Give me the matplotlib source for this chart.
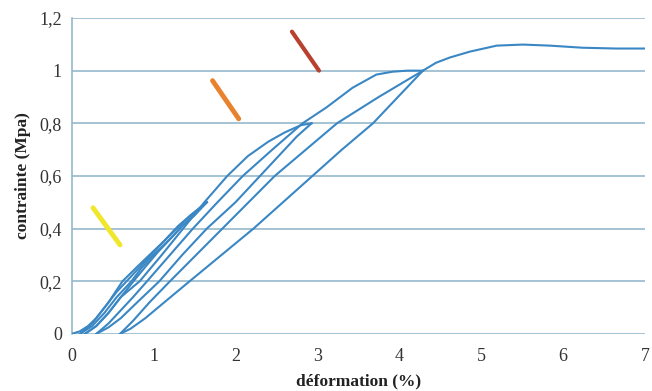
import matplotlib
matplotlib.use("Agg")
from matplotlib import pyplot as plt

# branches of the cyclic test (strain %, stress MPa)
# load 1 up to 0.5
x_l1 = [0, 0.1, 0.2, 0.3, 0.45, 0.62, 0.8, 0.95, 1.12, 1.28, 1.45, 1.65]
y_l1 = [0, 0.01, 0.03, 0.06, 0.12, 0.2, 0.255, 0.3, 0.35, 0.4, 0.45, 0.5]
# unload 1
x_u1 = [1.65, 1.5, 1.35, 1.2, 1.0, 0.85, 0.73, 0.55, 0.4, 0.25, 0.1]
y_u1 = [0.5, 0.45, 0.41, 0.36, 0.3, 0.25, 0.2, 0.14, 0.08, 0.03, 0]
# reload to 0.5
x_l1b = [0.1, 0.25, 0.4, 0.55, 0.7, 0.85, 1.0, 1.15, 1.3, 1.45, 1.65]
y_l1b = [0, 0.04, 0.1, 0.16, 0.21, 0.26, 0.31, 0.36, 0.41, 0.45, 0.5]
# unload
x_u1b = [1.65, 1.5, 1.35, 1.2, 1.05, 0.9, 0.78, 0.6, 0.45, 0.3, 0.16]
y_u1b = [0.5, 0.455, 0.41, 0.36, 0.31, 0.255, 0.21, 0.14, 0.08, 0.03, 0]
# load 2 up to 0.8
x_l2 = [0.16, 0.3, 0.45, 0.6, 0.83, 1.1, 1.36, 1.62, 1.9, 2.15, 2.4, 2.6, 2.8, 2.93]
y_l2 = [0, 0.03, 0.08, 0.14, 0.2, 0.3, 0.4, 0.5, 0.6, 0.675, 0.73, 0.765, 0.793, 0.8]
# unload 2
x_u2 = [2.93, 2.75, 2.6, 2.45, 2.3, 2.0, 1.65, 1.35, 1.07, 0.8, 0.6, 0.45, 0.3]
y_u2 = [0.8, 0.75, 0.7, 0.65, 0.6, 0.5, 0.4, 0.3, 0.2, 0.12, 0.06, 0.025, 0]
# load 3 up to 1.0
x_l3 = [0.3, 0.45, 0.6, 0.75, 0.92, 1.2, 1.48, 1.78, 2.09, 2.45, 2.82, 3.11, 3.43, 3.72, 3.92, 4.1, 4.29]
y_l3 = [0, 0.04, 0.09, 0.14, 0.2, 0.3, 0.4, 0.5, 0.6, 0.7, 0.8, 0.86, 0.935, 0.985, 0.996, 1.0, 1.0]
# unload 3
x_u3 = [4.29, 4.0, 3.68, 3.3, 2.94, 2.58, 2.22, 1.83, 1.44, 1.15, 0.9, 0.72, 0.59]
y_u3 = [1.0, 0.905, 0.8, 0.7, 0.6, 0.5, 0.4, 0.3, 0.2, 0.125, 0.06, 0.02, 0]
# reload 4 and final loading to failure
x_l4 = [0.59, 0.75, 0.95, 1.2, 1.52, 1.84, 2.16, 2.48, 2.86, 3.24, 3.75, 4.29,
        4.45, 4.62, 4.86, 5.19, 5.51, 5.84, 6.24, 6.65, 7.0]
y_l4 = [0, 0.05, 0.12, 0.2, 0.3, 0.4, 0.5, 0.6, 0.7, 0.8, 0.9, 1.0,
        1.03, 1.05, 1.072, 1.095, 1.099, 1.095, 1.087, 1.084, 1.084]

branches = [(x_l1, y_l1), (x_u1, y_u1), (x_l1b, y_l1b), (x_u1b, y_u1b),
            (x_l2, y_l2), (x_u2, y_u2), (x_l3, y_l3), (x_u3, y_u3), (x_l4, y_l4)]

y_ticks = [0, 0.2, 0.4, 0.6, 0.8, 1.0, 1.2]
y_labels = ['0', '0,2', '0,4', '0,6', '0,8', '1', '1,2']
x_ticks = [0, 1, 2, 3, 4, 5, 6, 7]

fig = plt.figure(figsize=(6.52, 3.91), dpi=100)
ax = fig.add_axes([0.110, 0.146, 0.879, 0.808])

grid_col = '#95b9cc'
for yt in y_ticks:
    ax.axhline(yt, color=grid_col, lw=1.2, zorder=1)

for bx, by in branches:
    ax.plot(bx, by, color='#3a87c4', lw=1.5, zorder=3)

# coloured marks pointing at each cycle
ax.plot([0.26, 0.59], [0.479, 0.338], color='#f0e62a', lw=3.5, solid_capstyle='round', zorder=4)
ax.plot([1.72, 2.04], [0.962, 0.817], color='#e8822e', lw=3.5, solid_capstyle='round', zorder=4)
ax.plot([2.69, 3.02], [1.148, 1.0], color='#b8402e', lw=3.0, solid_capstyle='round', zorder=4)

ax.set_xlim(0, 7)
ax.set_ylim(0, 1.2)
ax.set_xticks(x_ticks)
ax.set_yticks(y_ticks)
ax.set_yticklabels(y_labels)

for s in ['top', 'right', 'bottom']:
    ax.spines[s].set_visible(False)
ax.spines['left'].set_color(grid_col)
ax.spines['left'].set_linewidth(1.2)
ax.tick_params(length=0, labelsize=13, labelcolor='#333333')
ax.tick_params(axis='x', pad=10)
ax.tick_params(axis='y', pad=7)
for lab in ax.get_xticklabels() + ax.get_yticklabels():
    lab.set_family('Liberation Serif')

ax.set_xlabel('déformation (%)', family='Liberation Serif', fontweight='bold',
              fontsize=12.5, color='#222222', labelpad=6)
ax.set_ylabel('contrainte (Mpa)', family='Liberation Serif', fontweight='bold',
              fontsize=12.5, color='#222222', labelpad=6)

fig.savefig('out.png', dpi=100)
